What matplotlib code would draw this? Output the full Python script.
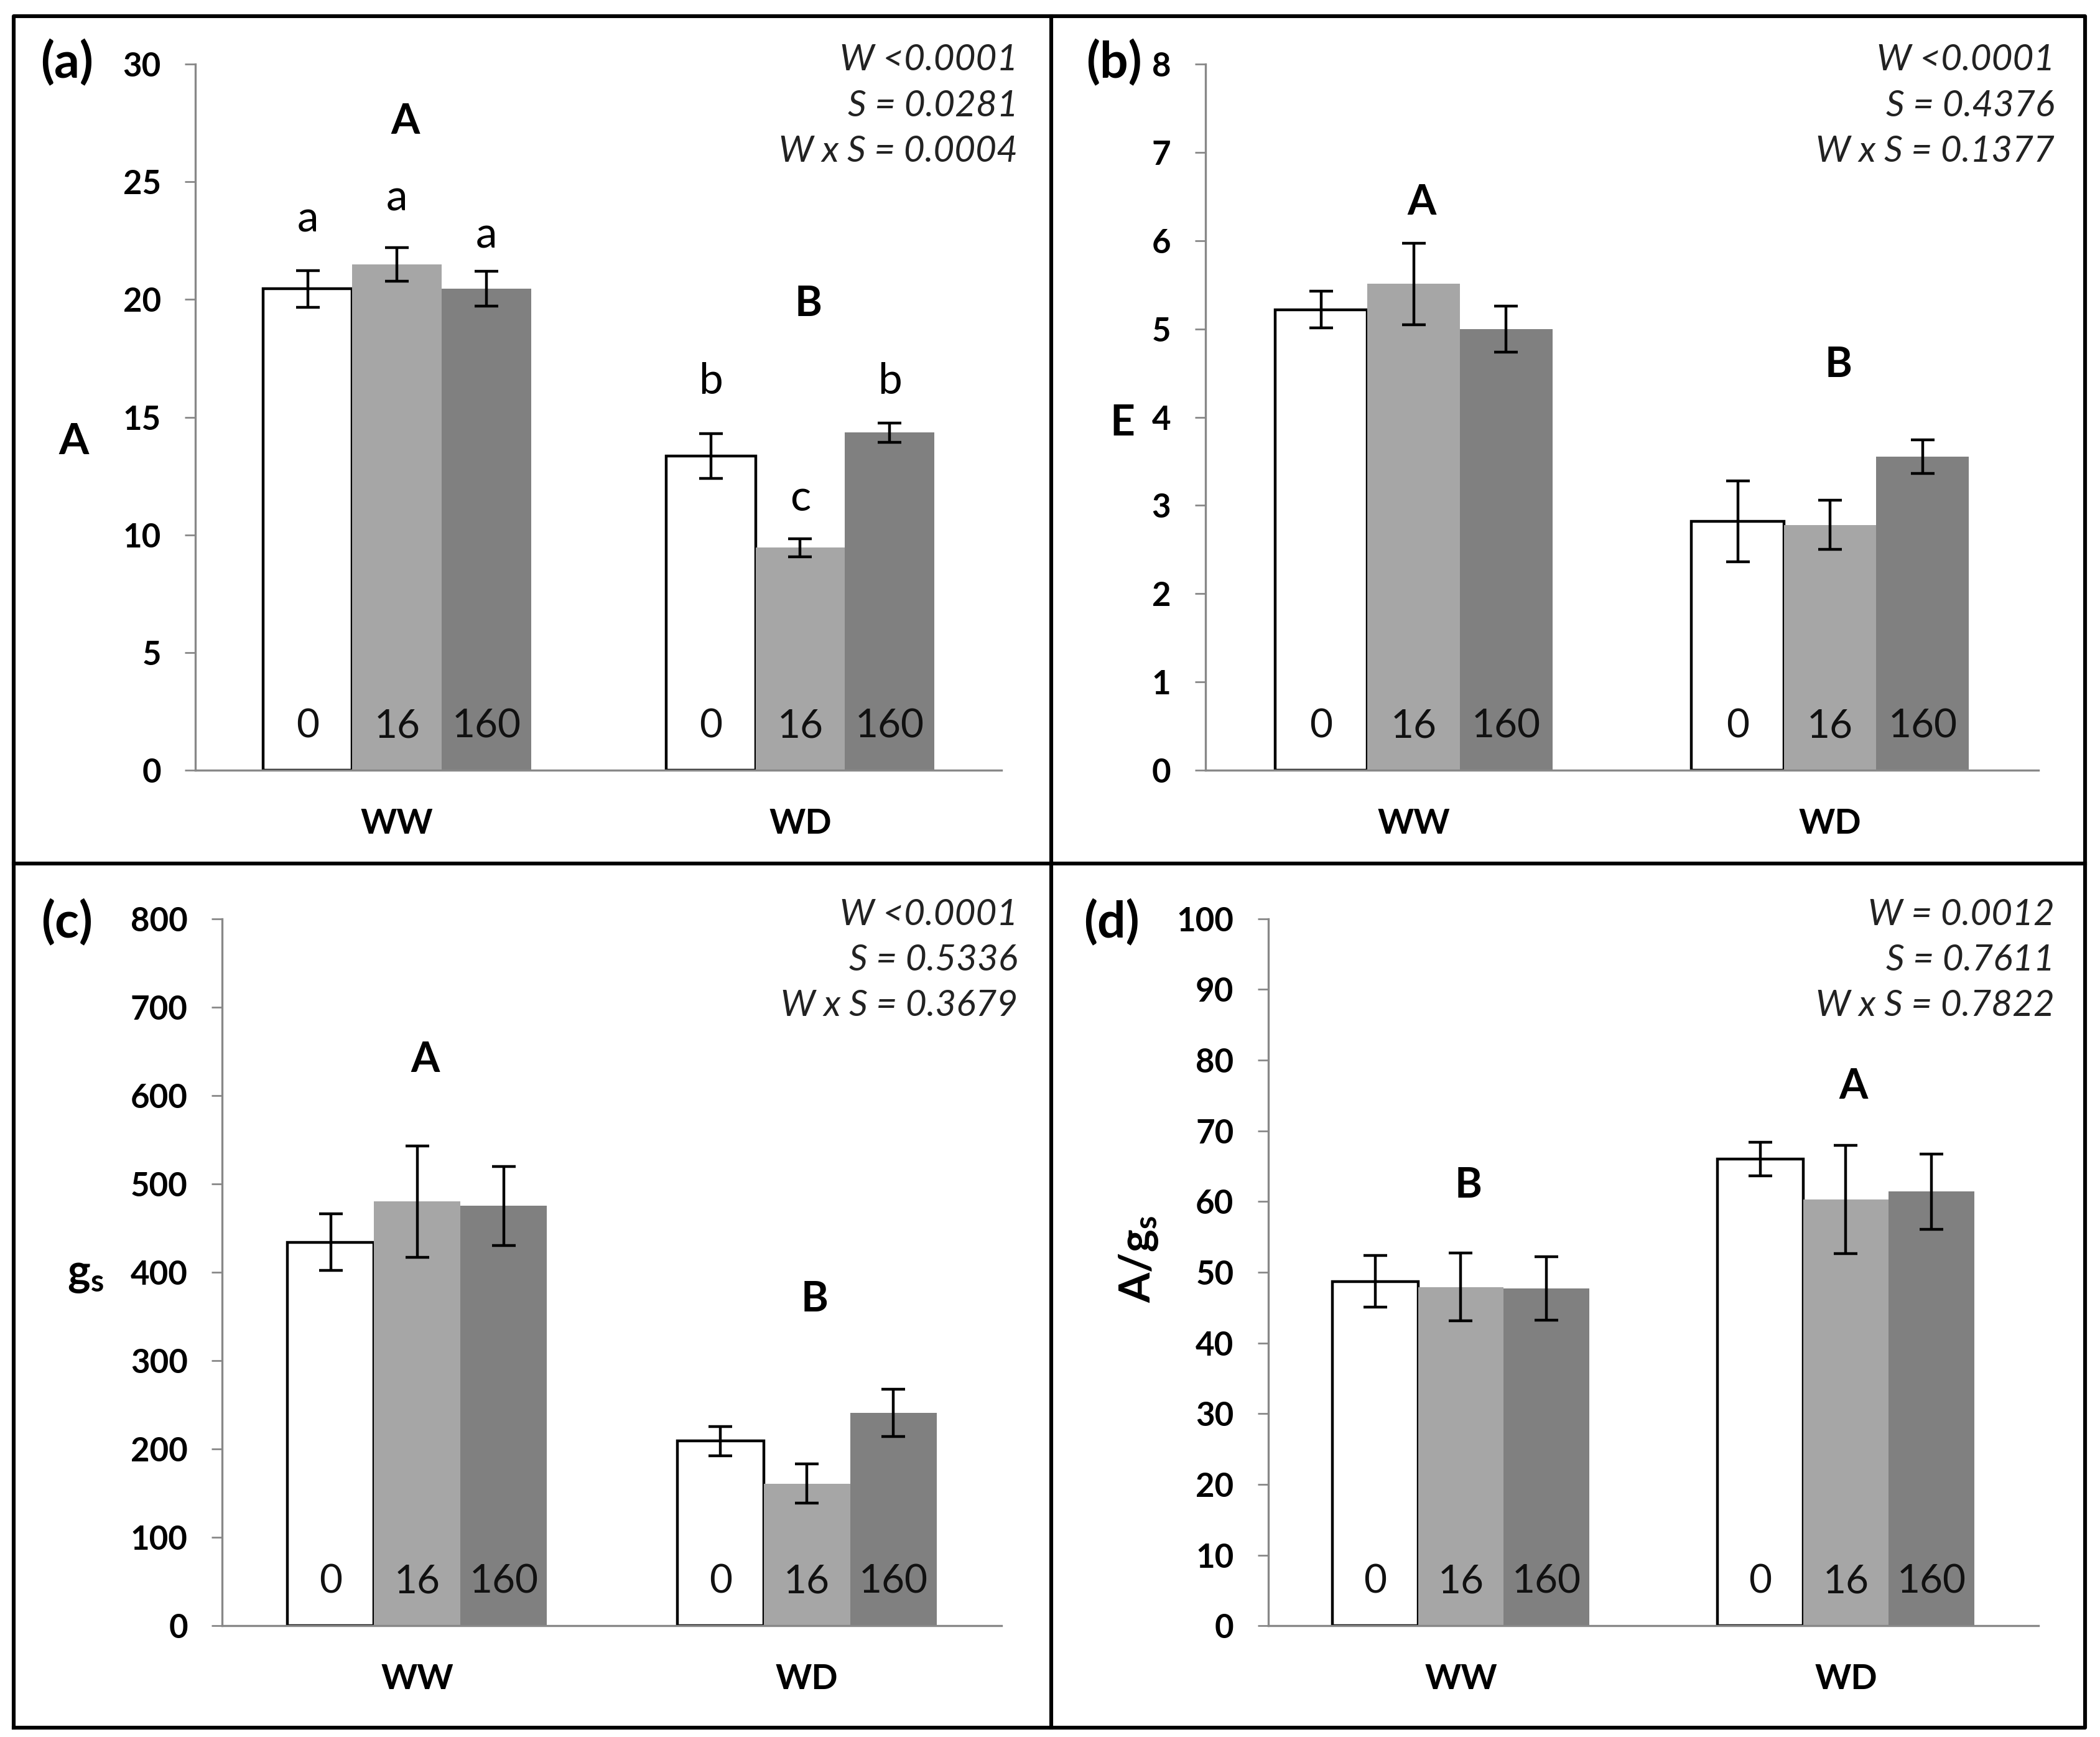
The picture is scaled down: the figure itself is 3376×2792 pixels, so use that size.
import matplotlib
matplotlib.use('Agg')
import matplotlib.pyplot as plt
import numpy as np

plt.rcParams['font.family'] = ['Lato', 'DejaVu Sans']

groups = ['WW', 'WD']
doses = ['0', '16', '160']
colors = ['white', '#A6A6A6', '#808080']

# (a) A
a_mean = [[20.45, 21.5, 20.45], [13.35, 9.45, 14.35]]
a_err = [[0.78, 0.72, 0.74], [0.96, 0.39, 0.41]]
a_letters = ['a', 'a', 'a', 'b', 'c', 'b']
a_letter_y = [23.4, 24.3, 22.7, 16.5, 11.55, 16.5]
a_group = ['A', 'B']
a_group_y = [27.55, 19.8]
a_stats = ['W <0.0001', 'S = 0.0281', 'W x S = 0.0004']

# (b) E
e_mean = [[5.22, 5.51, 5.0], [2.82, 2.78, 3.55]]
e_err = [[0.21, 0.46, 0.26], [0.46, 0.28, 0.19]]
e_group = ['A', 'B']
e_group_y = [6.43, 4.59]
e_stats = ['W <0.0001', 'S = 0.4376', 'W x S = 0.1377']

# (c) gs
g_mean = [[434, 480, 475], [209, 161, 241]]
g_err = [[32, 63, 45], [16.5, 22, 27]]
g_group = ['A', 'B']
g_group_y = [640, 369]
g_stats = ['W <0.0001', 'S = 0.5336', 'W x S = 0.3679']

# (d) A/gs
d_mean = [[48.7, 47.9, 47.7], [66.0, 60.3, 61.4]]
d_err = [[3.65, 4.8, 4.5], [2.4, 7.65, 5.3]]
d_group = ['B', 'A']
d_group_y = [62.2, 76.2]
d_stats = ['W = 0.0012', 'S = 0.7611', 'W x S = 0.7822']

W, H = 1568.0, 1297.0
fig = plt.figure(figsize=(16.88, 13.96), dpi=200)

bw = 0.222
x = np.arange(len(groups))


def panel(rect, mean, err, ymax, step, group_letters, group_y, stats,
          tag, ylab, ylab_pos, letters=None, letter_y=None, rot=0):
    l, r, t, b = rect
    ax = fig.add_axes([l / W, 1 - b / H, (r - l) / W, (b - t) / H])
    mean = np.array(mean)
    err = np.array(err)
    for i in range(3):
        xi = x + (i - 1) * bw
        ax.bar(xi, mean[:, i], bw, color=colors[i],
               edgecolor='black' if i == 0 else colors[i],
               linewidth=1.6 if i == 0 else 0, zorder=2)
        ax.errorbar(xi, mean[:, i], yerr=err[:, i], fmt='none', ecolor='black',
                    elinewidth=1.6, capsize=7, capthick=1.6, zorder=3)
        for j in range(len(groups)):
            ax.text(xi[j], ymax * 0.062, doses[i], ha='center', va='center',
                    fontsize=23, color='#111111', zorder=4)
    if letters is not None:
        k = 0
        for j in range(len(groups)):
            for i in range(3):
                ax.text(x[j] + (i - 1) * bw, letter_y[k], letters[k], ha='center',
                        va='center', fontsize=25)
                k += 1
    for j in range(len(groups)):
        ax.text(x[j] + 0.02, group_y[j], group_letters[j], ha='center',
                va='center', fontsize=24, fontweight='bold')
    ax.set_xlim(-0.5, 1.5)
    ax.set_ylim(0, ymax)
    ax.set_yticks(np.arange(0, ymax + step / 2, step))
    ax.set_xticks(x)
    ax.set_xticklabels(groups, fontsize=20, fontweight='bold')
    ax.tick_params(axis='x', length=0, pad=22)
    ax.tick_params(axis='y', length=6, width=1, color='#888888', pad=14, labelsize=19)
    for lab in ax.get_yticklabels():
        lab.set_fontweight('bold')
    for s in ['top', 'right']:
        ax.spines[s].set_visible(False)
    for s in ['left', 'bottom']:
        ax.spines[s].set_color('#888888')
        ax.spines[s].set_linewidth(1.2)
    # stats text, top right
    for k, s in enumerate(stats):
        fig.text((r + 12) / W, 1 - (t - 3 + 34 * k) / H, s, ha='right', va='center',
                 fontsize=21, fontstyle='italic', color='#222222')
    fig.text(tag[0] / W, 1 - tag[1] / H, tag[2], ha='center', va='center',
             fontsize=29, fontweight='bold')
    fig.text(ylab_pos[0] / W, 1 - ylab_pos[1] / H, ylab, ha='center', va='center',
             fontsize=25, fontweight='bold', rotation=rot)
    return ax


panel((146, 748, 48, 575), a_mean, a_err, 30, 5, a_group, a_group_y, a_stats,
      (50, 47, '(a)'), 'A', (55, 330), a_letters, a_letter_y)
panel((900, 1522, 48, 575), e_mean, e_err, 8, 1, e_group, e_group_y, e_stats,
      (832, 47, '(b)'), 'E', (838, 316))
panel((166, 748, 686, 1214), g_mean, g_err, 800, 100, g_group, g_group_y, g_stats,
      (50, 689, '(c)'), r'g$_\mathregular{s}$', (64, 952))
panel((947, 1522, 686, 1214), d_mean, d_err, 100, 10, d_group, d_group_y, d_stats,
      (830, 689, '(d)'), r'A/g$_\mathregular{s}$', (850, 940), rot=90)

# outer frame and dividers
frame_kw = dict(color='black', linewidth=2.2, transform=fig.transFigure)
x0, x1, xm = 10 / W, 1557 / W, 785 / W
y0, y1, ym = 1 - 1290 / H, 1 - 12 / H, 1 - 645 / H
fig.add_artist(plt.Line2D([x0, x1, x1, x0, x0], [y0, y0, y1, y1, y0], **frame_kw))
fig.add_artist(plt.Line2D([xm, xm], [y0, y1], **frame_kw))
fig.add_artist(plt.Line2D([x0, x1], [ym, ym], **frame_kw))

fig.savefig('out.png', dpi=200, facecolor='white')
